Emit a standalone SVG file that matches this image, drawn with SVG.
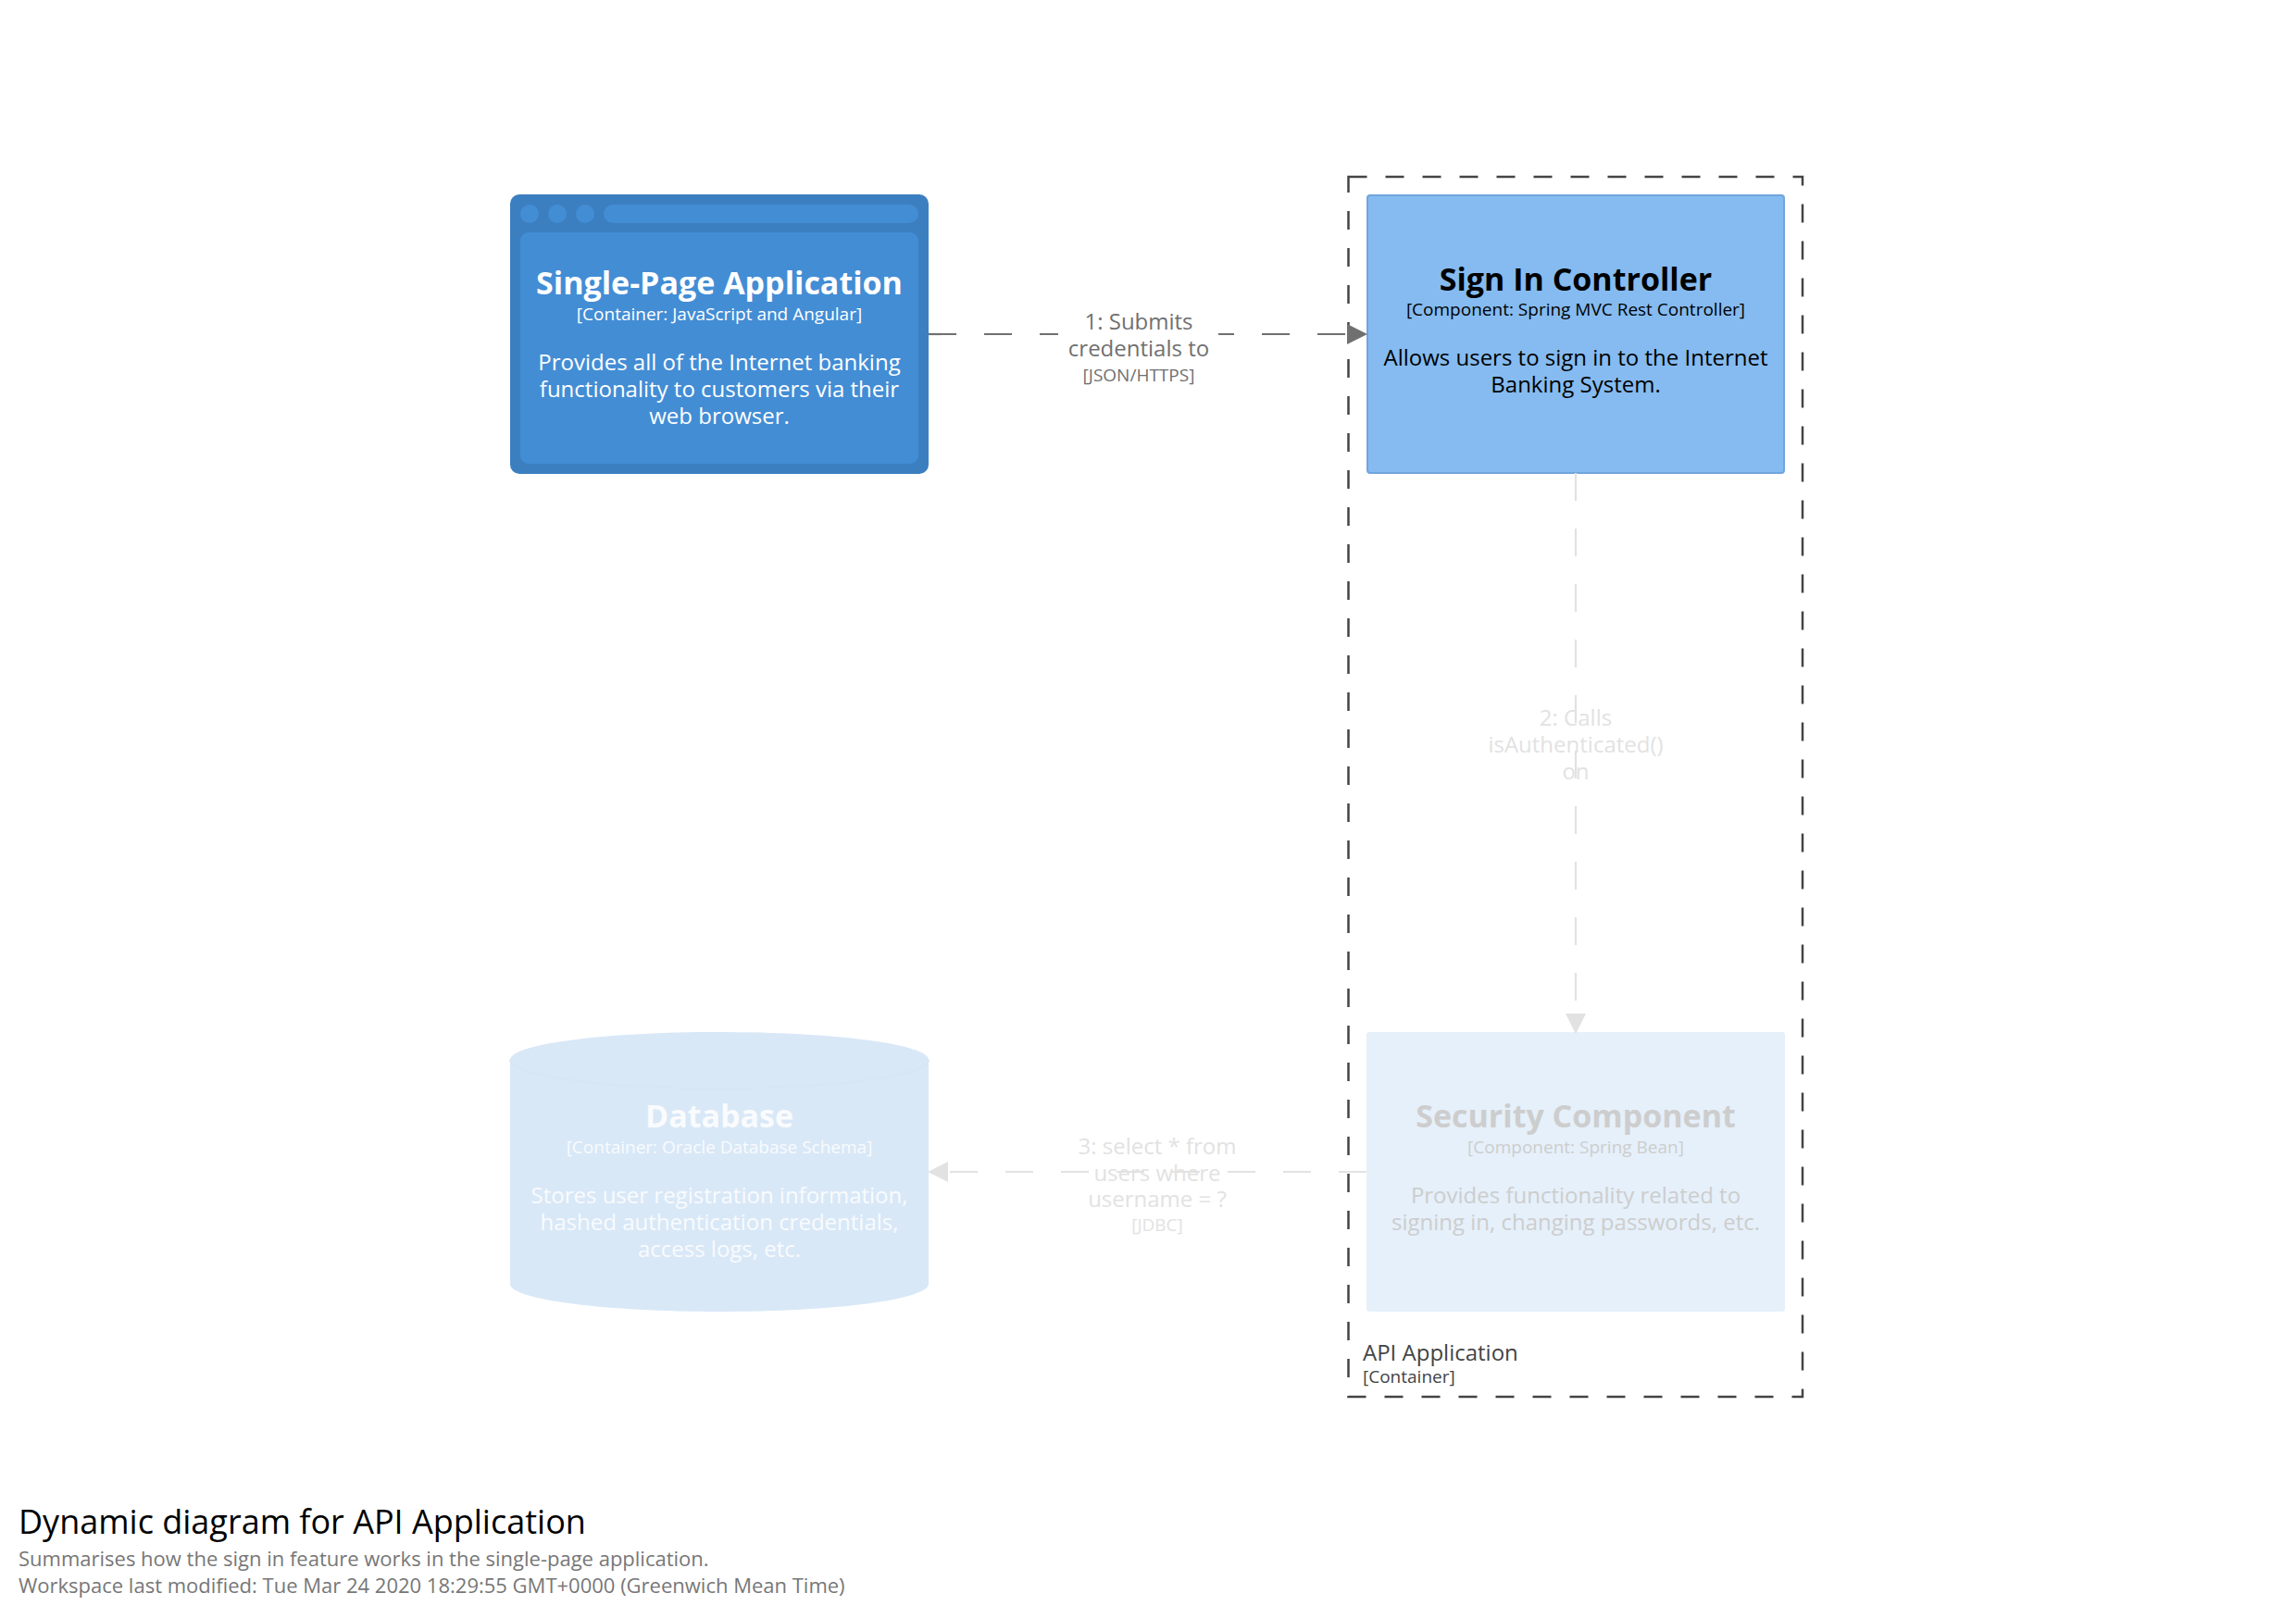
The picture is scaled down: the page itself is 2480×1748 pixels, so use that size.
<svg xmlns="http://www.w3.org/2000/svg" width="2480" height="1748" viewBox="0 0 2480 1748">
<style>
text{font-family:"Open Sans","Noto Sans","DejaVu Sans",sans-serif;text-anchor:middle}
.n{font-size:34px;font-weight:700}
.m{font-size:19px}
.d{font-size:24px}
.l{font-size:24px;fill:#707070}
.t{font-size:19px;fill:#707070}
.w{fill:#fff}
.k{fill:#000}
.fw{fill:#fff;fill-opacity:.85}
.fg{fill:#cdcdcd}
.fl{font-size:24px;fill:#e2e2e2}
.ft{font-size:19px;fill:#e2e2e2}
.dash{fill:none;stroke-width:2.2;stroke-dasharray:30 30}
.st{text-anchor:start}
</style>
<defs>
<marker id="a1" markerUnits="userSpaceOnUse" markerWidth="22" markerHeight="22" refX="21" refY="11" orient="auto"><path d="M0 0L22 11L0 22Z" fill="#707070"/></marker>
<marker id="a2" markerUnits="userSpaceOnUse" markerWidth="22" markerHeight="22" refX="21" refY="11" orient="auto"><path d="M0 0L22 11L0 22Z" fill="#e2e2e2"/></marker>
</defs>
<rect width="2480" height="1748" fill="#fff"/>
<g id="boundary">
<rect x="1456.5" y="191" width="490.5" height="1318" fill="none" stroke="#444" stroke-width="2.5" stroke-dasharray="20 20"/>
<text class="st" x="1472" y="1470" font-size="24" fill="#444">API Application</text>
<text class="st" x="1472" y="1494" font-size="19" fill="#444">[Container]</text>
</g>
<g id="spa">
<rect x="551" y="210" width="452" height="302" rx="10" fill="#3c7fc0"/>
<rect x="562" y="251" width="430" height="250" rx="9" fill="#438dd5"/>
<circle cx="572" cy="231" r="10" fill="#438dd5"/>
<circle cx="602" cy="231" r="10" fill="#438dd5"/>
<circle cx="632" cy="231" r="10" fill="#438dd5"/>
<rect x="652" y="221" width="340" height="20" rx="10" fill="#438dd5"/>
<text class="n w" x="777" y="318">Single-Page Application</text>
<text class="m w" x="777" y="346">[Container: JavaScript and Angular]</text>
<text class="d w" x="777" y="400">Provides all of the Internet banking</text>
<text class="d w" x="777" y="429">functionality to customers via their</text>
<text class="d w" x="777" y="458">web browser.</text>
</g>
<g id="controller">
<rect x="1477" y="211" width="450" height="300" rx="3" fill="#85bbf0" stroke="#6fa5dc" stroke-width="2"/>
<text class="n k" x="1702" y="314">Sign In Controller</text>
<text class="m k" x="1702" y="341">[Component: Spring MVC Rest Controller]</text>
<text class="d k" x="1702" y="395">Allows users to sign in to the Internet</text>
<text class="d k" x="1702" y="424">Banking System.</text>
</g>
<g id="security">
<rect x="1476" y="1115" width="452" height="302" rx="3" fill="#e5f0fa"/>
<text class="n fg" x="1702" y="1218">Security Component</text>
<text class="m fg" x="1702" y="1246">[Component: Spring Bean]</text>
<text class="d fg" x="1702" y="1300">Provides functionality related to</text>
<text class="d fg" x="1702" y="1329">signing in, changing passwords, etc.</text>
</g>
<g id="database">
<path d="M551 1145C551 1128 652 1115 777 1115S1003 1128 1003 1145V1387C1003 1404 902 1417 777 1417S551 1404 551 1387Z" fill="#d9e8f7"/>
<path d="M551 1145C551 1162 652 1176 777 1176S1003 1162 1003 1145" fill="none" stroke="#d7e6f5" stroke-width="2"/>
<text class="n fw" x="777" y="1218">Database</text>
<text class="m fw" x="777" y="1246">[Container: Oracle Database Schema]</text>
<text class="d fw" x="777" y="1300">Stores user registration information,</text>
<text class="d fw" x="777" y="1329">hashed authentication credentials,</text>
<text class="d fw" x="777" y="1358">access logs, etc.</text>
</g>
<g id="connectors">
<g id="edge1">
<path class="dash" d="M1003 361H1476" stroke="#707070" marker-end="url(#a1)"/>
<rect x="1143" y="331" width="173" height="90" fill="#fff"/>
<text class="l" x="1230" y="356">1: Submits</text>
<text class="l" x="1230" y="385">credentials to</text>
<text class="t" x="1230" y="412">[JSON/HTTPS]</text>
</g>
<g id="edge2">
<path class="dash" d="M1702 511V1116" stroke="#e2e2e2" marker-end="url(#a2)"/>
<text class="fl" x="1702" y="784">2: Calls</text>
<text class="fl" x="1702" y="813">isAuthenticated()</text>
<text class="fl" x="1702" y="842">on</text>
</g>
<g id="edge3">
<path class="dash" d="M1476 1266H1003" stroke="#e2e2e2" marker-end="url(#a2)"/>
<text class="fl" x="1250" y="1247">3: select * from</text>
<text class="fl" x="1250" y="1276">users where</text>
<text class="fl" x="1250" y="1304">username = ?</text>
<text class="ft" x="1250" y="1330">[JDBC]</text>
</g>
</g>
<g id="footer">
<text class="st" x="20" y="1657" font-size="36" fill="#000">Dynamic diagram for API Application</text>
<text class="st" x="20" y="1692" font-size="22" fill="#777">Summarises how the sign in feature works in the single-page application.</text>
<text class="st" x="20" y="1721" font-size="22" fill="#777">Workspace last modified: Tue Mar 24 2020 18:29:55 GMT+0000 (Greenwich Mean Time)</text>
</g>
</svg>
